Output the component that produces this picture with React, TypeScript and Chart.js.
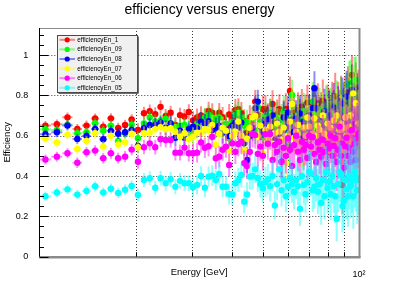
import React, { useEffect, useRef } from 'react';
import { Chart, registerables } from 'chart.js';

Chart.register(...registerables);

// ---------------- data ----------------
const energies = [
  10.45, 11.35, 12.25, 13.15, 14.05, 14.95, 15.85, 16.75, 17.65, 18.55,
  19.45, 20.35, 21.25, 22.15, 23.05, 23.95, 24.85, 25.75, 26.65, 27.55,
  28.45, 29.35, 30.25, 31.15, 32.05, 32.95, 33.85, 34.75, 35.65, 36.55,
  37.45, 38.35, 39.25, 40.15, 41.05, 41.95, 42.85, 43.75, 44.65, 45.55,
  46.45, 47.35, 48.25, 49.15, 50.05, 50.95, 51.85, 52.75, 53.65, 54.55,
  55.45, 56.35, 57.25, 58.15, 59.05, 59.95, 60.85, 61.75, 62.65, 63.55,
  64.45, 65.35, 66.25, 67.15, 68.05, 68.95, 69.85, 70.75, 71.65, 72.55,
  73.45, 74.35, 75.25, 76.15, 77.05, 77.95, 78.85, 79.75, 80.65, 81.55,
  82.45, 83.35, 84.25, 85.15, 86.05, 86.95, 87.85, 88.75, 89.65, 90.55,
  91.45, 92.35, 93.25, 94.15, 95.05, 95.95, 96.85, 97.75, 98.65, 99.55,
];

// half bin width (horizontal error)
const energyErr = 0.45;

// events per energy bin (binomial errors)
const binEntries = [
  420, 400, 390, 380, 370, 360, 350, 345, 335, 330, 320,
  210, 200, 195, 185, 180, 175, 170, 165, 160, 150, 145,
  110, 105, 100, 98, 95, 92, 90, 86, 84, 80, 78,
  70, 68, 66, 64, 62, 60, 58, 56, 54, 52, 50,
  44, 42, 41, 40, 39, 38, 37, 36, 35, 34, 33,
  30, 29, 28, 28, 27, 26, 25, 25, 24, 24, 23,
  20, 20, 19, 19, 18, 18, 17, 17, 16, 16, 15,
  14, 14, 13, 13, 13, 12, 12, 12, 11, 11, 11,
  10, 10, 10, 9, 9, 9, 9, 8, 8, 8, 8, 8,
];

const effEn1 = [
  0.650, 0.657, 0.691, 0.633, 0.650, 0.685, 0.645, 0.686, 0.638, 0.653,
  0.680, 0.628, 0.711, 0.722, 0.707, 0.743, 0.698, 0.714, 0.653, 0.702,
  0.695, 0.718, 0.676, 0.690, 0.700, 0.688, 0.723, 0.714, 0.662, 0.714,
  0.692, 0.645, 0.705, 0.680, 0.728, 0.731, 0.711, 0.672, 0.615, 0.690,
  0.678, 0.769, 0.702, 0.655, 0.731, 0.731, 0.688, 0.712, 0.757, 0.668,
  0.705, 0.731, 0.640, 0.698, 0.733, 0.680, 0.822, 0.706, 0.714, 0.665,
  0.728, 0.690, 0.744, 0.655, 0.712, 0.764, 0.700, 0.642, 0.752, 0.720,
  0.686, 0.760, 0.628, 0.705, 0.774, 0.690, 0.650, 0.736, 0.712, 0.668,
  0.747, 0.700, 0.795, 0.635, 0.741, 0.688, 0.770, 0.356, 0.720, 0.761,
  0.684, 0.815, 0.740, 0.650, 0.901, 0.760, 0.705, 0.830, 0.690, 0.780,
];

const effEn09 = [
  0.632, 0.628, 0.655, 0.612, 0.617, 0.662, 0.625, 0.650, 0.574, 0.612,
  0.655, 0.587, 0.661, 0.691, 0.670, 0.675, 0.683, 0.661, 0.642, 0.650,
  0.653, 0.640, 0.607, 0.660, 0.670, 0.690, 0.703, 0.691, 0.675, 0.691,
  0.645, 0.660, 0.587, 0.670, 0.703, 0.714, 0.691, 0.650, 0.668, 0.640,
  0.681, 0.625, 0.744, 0.668, 0.592, 0.698, 0.660, 0.712, 0.698, 0.640,
  0.691, 0.655, 0.678, 0.720, 0.630, 0.546, 0.700, 0.802, 0.686, 0.650,
  0.705, 0.640, 0.678, 0.722, 0.610, 0.685, 0.691, 0.645, 0.769, 0.711,
  0.625, 0.661, 0.730, 0.600, 0.690, 0.653, 0.735, 0.698, 0.640, 0.712,
  0.665, 0.691, 0.605, 0.748, 0.680, 0.630, 0.760, 0.690, 0.728, 0.600,
  0.780, 0.655, 0.852, 0.860, 0.700, 0.810, 0.873, 0.876, 0.640, 0.740,
];

const effEn08 = [
  0.607, 0.617, 0.650, 0.584, 0.599, 0.633, 0.582, 0.624, 0.610, 0.617,
  0.628, 0.549, 0.637, 0.653, 0.653, 0.665, 0.640, 0.661, 0.590, 0.625,
  0.590, 0.632, 0.645, 0.637, 0.670, 0.660, 0.672, 0.628, 0.640, 0.648,
  0.615, 0.630, 0.599, 0.650, 0.665, 0.640, 0.665, 0.562, 0.480, 0.599,
  0.640, 0.736, 0.769, 0.645, 0.620, 0.660, 0.681, 0.630, 0.700, 0.579,
  0.665, 0.610, 0.471, 0.690, 0.640, 0.715, 0.600, 0.680, 0.620, 0.686,
  0.650, 0.710, 0.585, 0.670, 0.595, 0.640, 0.700, 0.612, 0.736, 0.835,
  0.736, 0.620, 0.680, 0.590, 0.653, 0.720, 0.660, 0.610, 0.700, 0.645,
  0.685, 0.740, 0.604, 0.660, 0.715, 0.640, 0.600, 0.760, 0.691, 0.650,
  0.794, 0.670, 0.720, 0.630, 0.827, 0.700, 0.660, 0.691, 0.760, 0.695,
];

const effEn07 = [
  0.586, 0.567, 0.605, 0.534, 0.574, 0.612, 0.546, 0.600, 0.557, 0.567,
  0.610, 0.543, 0.612, 0.615, 0.632, 0.642, 0.632, 0.637, 0.620, 0.595,
  0.612, 0.582, 0.595, 0.615, 0.615, 0.632, 0.628, 0.653, 0.554, 0.610,
  0.640, 0.625, 0.526, 0.599, 0.620, 0.670, 0.600, 0.526, 0.585, 0.640,
  0.691, 0.698, 0.600, 0.650, 0.513, 0.628, 0.590, 0.645, 0.560, 0.612,
  0.660, 0.620, 0.580, 0.640, 0.463, 0.600, 0.670, 0.757, 0.590, 0.620,
  0.653, 0.570, 0.463, 0.640, 0.600, 0.690, 0.645, 0.540, 0.610, 0.686,
  0.600, 0.650, 0.628, 0.560, 0.700, 0.610, 0.585, 0.660, 0.530, 0.640,
  0.600, 0.675, 0.560, 0.700, 0.590, 0.628, 0.660, 0.520, 0.640, 0.690,
  0.600, 0.580, 0.645, 0.700, 0.560, 0.810, 0.620, 0.761, 0.600, 0.660,
];

const effEn06 = [
  0.482, 0.496, 0.513, 0.466, 0.518, 0.526, 0.488, 0.513, 0.488, 0.496,
  0.531, 0.471, 0.543, 0.562, 0.543, 0.582, 0.579, 0.579, 0.516, 0.516,
  0.541, 0.513, 0.513, 0.516, 0.566, 0.540, 0.548, 0.595, 0.488, 0.496,
  0.530, 0.546, 0.455, 0.562, 0.520, 0.559, 0.570, 0.463, 0.450, 0.520,
  0.608, 0.603, 0.510, 0.546, 0.500, 0.608, 0.560, 0.608, 0.480, 0.554,
  0.520, 0.570, 0.470, 0.540, 0.500, 0.587, 0.530, 0.450, 0.554, 0.600,
  0.521, 0.480, 0.570, 0.530, 0.554, 0.490, 0.600, 0.546, 0.592, 0.510,
  0.470, 0.566, 0.530, 0.496, 0.580, 0.520, 0.460, 0.560, 0.537, 0.600,
  0.500, 0.550, 0.587, 0.470, 0.530, 0.645, 0.500, 0.560, 0.440, 0.546,
  0.590, 0.500, 0.540, 0.470, 0.628, 0.520, 0.560, 0.480, 0.590, 0.612,
];

const effEn05 = [
  0.300, 0.318, 0.334, 0.308, 0.326, 0.349, 0.318, 0.337, 0.316, 0.332,
  0.351, 0.306, 0.380, 0.389, 0.342, 0.389, 0.364, 0.384, 0.347, 0.376,
  0.364, 0.364, 0.344, 0.356, 0.400, 0.342, 0.397, 0.402, 0.380, 0.410,
  0.347, 0.347, 0.311, 0.309, 0.364, 0.380, 0.405, 0.273, 0.309, 0.397,
  0.400, 0.433, 0.390, 0.361, 0.339, 0.370, 0.384, 0.350, 0.400, 0.254,
  0.360, 0.433, 0.330, 0.380, 0.300, 0.347, 0.390, 0.360, 0.322, 0.380,
  0.350, 0.238, 0.400, 0.356, 0.310, 0.370, 0.422, 0.413, 0.330, 0.347,
  0.390, 0.322, 0.360, 0.266, 0.380, 0.300, 0.420, 0.340, 0.372, 0.310,
  0.400, 0.350, 0.300, 0.188, 0.360, 0.420, 0.405, 0.251, 0.276, 0.380,
  0.334, 0.300, 0.400, 0.350, 0.377, 0.300, 0.420, 0.397, 0.330, 0.380,
];

const seriesNames = ['efficiencyEn_1', 'efficiencyEn_09', 'efficiencyEn_08', 'efficiencyEn_07', 'efficiencyEn_06', 'efficiencyEn_05'];
const seriesValues = [effEn1, effEn09, effEn08, effEn07, effEn06, effEn05];
const seriesColors = ['255,0,0', '0,255,0', '0,0,255', '255,255,0', '255,0,255', '0,255,255'];

const yTickValues = [0, 0.2, 0.4, 0.6, 0.8, 1];
const yMinorTickValues = [0.05, 0.1, 0.15, 0.25, 0.3, 0.35, 0.45, 0.5, 0.55, 0.65, 0.7, 0.75, 0.85, 0.9, 0.95, 1.05, 1.1];
const xGridValues = [20, 30, 40, 50, 60, 70, 80, 90];
const xTickValues = [100];
const xMin = 10;
const xMax = 100;
const yMin = 0;
const yMax = 1.134;

const FONT = '"Liberation Sans", Arial, Helvetica, sans-serif';

function binomialErr(v: number, n: number) {
  return Math.sqrt(Math.max(v * (1 - v), 0) / n);
}

const rootPlugin = {
  id: 'rootStyle',
  beforeDraw(chart: any) {
    const ctx = chart.ctx;
    ctx.save();
    ctx.fillStyle = '#ffffff';
    ctx.fillRect(0, 0, chart.width, chart.height);
    ctx.restore();
  },
  beforeDatasetsDraw(chart: any) {
    const { ctx, chartArea: a, scales } = chart;
    const xs = scales.x, ys = scales.y;
    ctx.save();
    ctx.strokeStyle = '#3a3a3a';
    ctx.lineWidth = 1;
    ctx.setLineDash([1, 2]);
    xGridValues.forEach((v) => {
      const px = Math.round(xs.getPixelForValue(v)) + 0.5;
      ctx.beginPath();
      ctx.moveTo(px, a.top);
      ctx.lineTo(px, a.bottom);
      ctx.stroke();
    });
    yTickValues.forEach((v) => {
      if (v === 0) return;
      const py = Math.round(ys.getPixelForValue(v)) + 0.5;
      ctx.beginPath();
      ctx.moveTo(a.left, py);
      ctx.lineTo(a.right, py);
      ctx.stroke();
    });
    ctx.restore();
  },
  beforeDatasetDraw(chart: any, args: any) {
    const { ctx, chartArea: a, scales } = chart;
    const xs = scales.x, ys = scales.y;
    const idx = args.index;
    const vals = seriesValues[idx];
    ctx.save();
    ctx.beginPath();
    ctx.rect(a.left, a.top, a.right - a.left, a.bottom - a.top);
    ctx.clip();
    ctx.strokeStyle = `rgba(${seriesColors[idx]},0.45)`;
    ctx.lineWidth = 2;
    vals.forEach((v, i) => {
      const e = energies[i];
      const err = binomialErr(v, binEntries[i]);
      const px = xs.getPixelForValue(e);
      const py = ys.getPixelForValue(v);
      ctx.beginPath();
      ctx.moveTo(px, ys.getPixelForValue(v - err));
      ctx.lineTo(px, ys.getPixelForValue(v + err));
      ctx.moveTo(xs.getPixelForValue(e - energyErr), py);
      ctx.lineTo(xs.getPixelForValue(e + energyErr), py);
      ctx.stroke();
    });
    ctx.restore();
  },
  afterDatasetsDraw(chart: any) {
    const { ctx, chartArea: a, scales } = chart;
    const xs = scales.x, ys = scales.y;
    ctx.save();
    // frame
    ctx.setLineDash([]);
    ctx.strokeStyle = '#8a8a8a';
    ctx.lineWidth = 1;
    ctx.beginPath();
    ctx.moveTo(a.left, a.top + 0.5);
    ctx.lineTo(a.right, a.top + 0.5);
    ctx.stroke();
    ctx.strokeStyle = '#8a8a8a';
    ctx.lineWidth = 2;
    ctx.beginPath();
    ctx.moveTo(a.right + 0.5, a.top);
    ctx.lineTo(a.right + 0.5, a.bottom + 1);
    ctx.stroke();
    ctx.lineWidth = 2.5;
    ctx.beginPath();
    ctx.moveTo(a.left, a.bottom + 0.5);
    ctx.lineTo(a.right + 1.5, a.bottom + 0.5);
    ctx.stroke();
    ctx.strokeStyle = '#000';
    ctx.lineWidth = 1;
    const lx = Math.round(a.left) + 0.5;
    ctx.beginPath();
    ctx.moveTo(lx, a.top);
    ctx.lineTo(lx, a.bottom);
    ctx.stroke();
    // y ticks (inside)
    yTickValues.forEach((v) => {
      const py = Math.round(ys.getPixelForValue(v)) + 0.5;
      ctx.beginPath();
      ctx.moveTo(lx, py);
      ctx.lineTo(lx + 9, py);
      ctx.stroke();
    });
    yMinorTickValues.forEach((v) => {
      const py = Math.round(ys.getPixelForValue(v)) + 0.5;
      ctx.beginPath();
      ctx.moveTo(lx, py);
      ctx.lineTo(lx + 4.5, py);
      ctx.stroke();
    });
    // x ticks (inside, small)
    xGridValues.forEach((v) => {
      const px = Math.round(xs.getPixelForValue(v)) + 0.5;
      ctx.beginPath();
      ctx.moveTo(px, a.bottom);
      ctx.lineTo(px, a.bottom - 4.5);
      ctx.stroke();
    });

    // legend
    const bx = 57.5, by = 35.5, bw = 80, bh = 57;
    ctx.fillStyle = '#f0f0f0';
    ctx.fillRect(bx, by, bw, bh);
    ctx.strokeStyle = '#4a4a4a';
    ctx.lineWidth = 1;
    ctx.strokeRect(bx, by, bw, bh);
    ctx.beginPath();
    ctx.moveTo(bx + bw + 0.8, by + 1);
    ctx.lineTo(bx + bw + 0.8, by + bh + 0.8);
    ctx.lineTo(bx + 1, by + bh + 0.8);
    ctx.stroke();
    const rowY0 = 39.8, rowStep = 9.6;
    ctx.font = `6.3px ${FONT}`;
    ctx.textBaseline = 'middle';
    ctx.textAlign = 'left';
    seriesNames.forEach((name, i) => {
      const yy = rowY0 + rowStep * i;
      ctx.strokeStyle = `rgba(${seriesColors[i]},0.45)`;
      ctx.lineWidth = 2;
      ctx.beginPath();
      ctx.moveTo(59.5, yy);
      ctx.lineTo(75, yy);
      ctx.stroke();
      ctx.fillStyle = `rgb(${seriesColors[i]})`;
      ctx.beginPath();
      ctx.arc(67.2, yy, 2.6, 0, Math.PI * 2);
      ctx.fill();
      ctx.fillStyle = '#000';
      ctx.fillText(name, 77.3, yy + 0.3);
    });

    // title
    ctx.fillStyle = '#000';
    ctx.font = `14px ${FONT}`;
    ctx.textAlign = 'center';
    ctx.textBaseline = 'alphabetic';
    ctx.fillText('efficiency versus energy', 199.5, 14);
    ctx.restore();
  },
};

export default function App() {
  const canvasRef = useRef<HTMLCanvasElement | null>(null);

  useEffect(() => {
    if (!canvasRef.current) return;
    Chart.defaults.font.family = FONT;
    const datasets = seriesNames.map((name, i) => ({
      label: name,
      data: energies.map((e, j) => ({ x: e, y: seriesValues[i][j] })),
      showLine: false,
      pointRadius: 3.2,
      pointHoverRadius: 3.2,
      pointBorderWidth: 0,
      pointBackgroundColor: `rgb(${seriesColors[i]})`,
      pointBorderColor: `rgb(${seriesColors[i]})`,
      order: seriesNames.length - 1 - i,
    }));

    const chart = new Chart(canvasRef.current, {
      type: 'scatter',
      data: { datasets },
      plugins: [rootPlugin],
      options: {
        responsive: false,
        animation: false,
        devicePixelRatio: 1,
        events: [],
        layout: { padding: { top: 28, right: 40, left: 0, bottom: 0 } },
        plugins: {
          legend: { display: false },
          tooltip: { enabled: false },
          title: { display: false },
        },
        scales: {
          x: {
            type: 'logarithmic',
            min: xMin,
            max: xMax,
            grid: { display: false },
            border: { display: false },
            afterBuildTicks: (s: any) => {
              s.ticks = xTickValues.map((v) => ({ value: v }));
            },
            ticks: {
              autoSkip: false,
              maxRotation: 0,
              padding: 4,
              color: '#000',
              font: { size: 9, family: FONT },
              callback: () => '10²',
            },
            title: {
              display: true,
              text: 'Energy [GeV]',
              color: '#000',
              font: { size: 9.5, family: FONT },
              padding: { top: 0, bottom: 8 },
            },
            afterFit: (s: any) => {
              s.height = 29.3;
            },
          },
          y: {
            min: yMin,
            max: yMax,
            grid: { display: false },
            border: { display: false },
            afterBuildTicks: (s: any) => {
              s.ticks = yTickValues.map((v) => ({ value: v }));
            },
            ticks: {
              padding: 3,
              color: '#000',
              font: { size: 9, family: FONT },
              callback: (v: any) => String(Number(Number(v).toFixed(1))),
            },
            title: {
              display: true,
              text: 'Efficiency',
              color: '#000',
              font: { size: 9.5, family: FONT },
              padding: { top: 1.5, bottom: 0 },
            },
            afterFit: (s: any) => {
              s.width = 39.3;
            },
          },
        },
      } as any,
    });
    return () => chart.destroy();
  }, []);

  return (
    <div style={{ position: 'fixed', left: 0, top: 0, width: 399, height: 286, background: '#fff' }}>
      <canvas ref={canvasRef} width={399} height={286} style={{ display: 'block', width: 399, height: 286 }} />
    </div>
  );
}
